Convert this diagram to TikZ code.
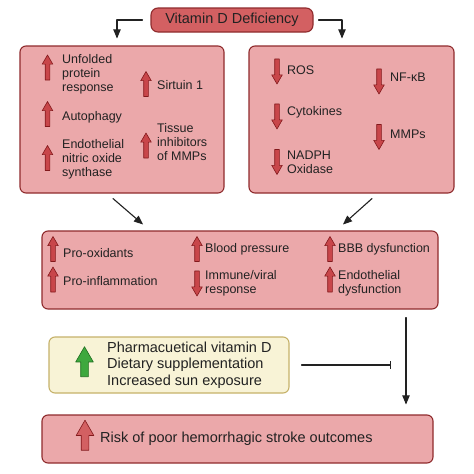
\documentclass[tikz,border=0pt]{standalone}
\usepackage{fontspec}
\setmainfont{Liberation Sans}
\usetikzlibrary{arrows,arrows.meta,shapes.arrows}
\definecolor{boxfill}{HTML}{EBA8AA}
\definecolor{boxline}{HTML}{8F2B2D}
\definecolor{titlefill}{HTML}{D36062}
\definecolor{yelfill}{HTML}{F8F3D6}
\definecolor{yelline}{HTML}{C6B26A}
\definecolor{arrfill}{HTML}{C8464A}
\definecolor{arrline}{HTML}{82191C}
\definecolor{grnfill}{HTML}{3EA83E}
\definecolor{grnline}{HTML}{1F6E1F}
\definecolor{txt}{HTML}{222222}
\begin{document}
\begin{tikzpicture}[line cap=round,line join=round,>=triangle 45,x=1pt,y=-1pt,
  box/.style={draw=boxline,fill=boxfill,rounded corners=6pt,line width=1.1pt,inner sep=0pt},
  uparr/.style={single arrow,draw=arrline,fill=arrfill,line width=0.6pt,minimum height=25pt,
    inner sep=2pt,single arrow head extend=3pt,single arrow tip angle=60,rotate=90},
  dnarr/.style={uparr,rotate=180},
  lbl/.style={anchor=west,inner sep=0pt,align=left,text=txt,font=\fontsize{12.5}{14}\selectfont},
  big/.style={anchor=west,inner sep=0pt,align=left,text=txt,font=\fontsize{14.5}{16.5}\selectfont},
  conn/.style={line width=1.1pt,draw=txt}]
\useasboundingbox (0,0) rectangle (474,474);
\fill[white] (0,0) rectangle (474,474);
% boxes
\node[box,fill=titlefill,rounded corners=7pt,minimum width=162pt,minimum height=24pt,font=\fontsize{14.5}{16}\selectfont,text=txt] (title) at (232,20) {Vitamin D Deficiency};
\node[box,minimum width=204pt,minimum height=147pt] (lbox) at (122,119.5) {};
\node[box,minimum width=205pt,minimum height=147pt] (rbox) at (351.5,119.5) {};
\node[box,minimum width=396pt,minimum height=78pt] (mbox) at (240,270) {};
\node[box,draw=yelline,fill=yelfill,minimum width=240pt,minimum height=56pt] (ybox) at (169,365) {};
\node[box,minimum width=391pt,minimum height=48pt] (bbox) at (237.5,439) {};
% connectors
\draw[conn,->,shorten <=8pt,shorten >=7pt] (title.west) -| ([xshift=-5pt]lbox.north);
\draw[conn,->,shorten <=5pt,shorten >=7pt] (title.east) -| ([xshift=-9.5pt]rbox.north);
\draw[conn,->] ([xshift=-9pt,yshift=-5pt]lbox.south) -- ([xshift=-97pt,yshift=6pt]mbox.north);
\draw[conn,->] ([xshift=20.5pt,yshift=-5pt]rbox.south) -- ([xshift=103pt,yshift=6pt]mbox.north);
\draw[conn,->] ([xshift=166pt,yshift=-8pt]mbox.south) coordinate (vtop) -- ([xshift=168.5pt,yshift=10pt]bbox.north);
\coordinate (vmid) at (vtop |- ybox.east);
\draw[conn,-{Bar[width=8pt]},shorten <=12pt,shorten >=15pt] (ybox.east) -- (vmid);
% left box
\node[uparr] (a1) at (47.5,69.5) {};
\node[lbl] (t1) at (62,74) {Unfolded\\protein\\response};
\node[uparr] (a2) at (47.5,116) {};
\node[lbl] (t2) at (62,117) {Autophagy};
\node[uparr] (a3) at (47.5,160) {};
\node[lbl] (t3) at (62,159) {Endothelial\\nitric oxide\\synthase};
\node[uparr] (a4) at (146,86) {};
\node[lbl] (t4) at (157,85) {Sirtuin 1};
\node[uparr] (a5) at (146,147.5) {};
\node[lbl] (t5) at (157,142) {Tissue\\inhibitors\\of MMPs};
% right box
\node[dnarr] (a6) at (277,69.5) {};
\node[lbl] (t6) at (287,70) {ROS};
\node[dnarr] (a7) at (277,114.5) {};
\node[lbl] (t7) at (287,112) {Cytokines};
\node[dnarr] (a8) at (277,160) {};
\node[lbl] (t8) at (287,162) {NADPH\\Oxidase};
\node[dnarr] (a9) at (379,79.5) {};
\node[lbl] (t9) at (390,77) {NF-κB};
\node[dnarr] (a10) at (379,135) {};
\node[lbl] (t10) at (390,134) {MMPs};
% middle box
\node[uparr] (a11) at (53,251) {};
\node[lbl] (t11) at (63,253) {Pro-oxidants};
\node[uparr] (a12) at (53,281.5) {};
\node[lbl] (t12) at (63,281) {Pro-inflammation};
\node[uparr] (a13) at (197,251) {};
\node[lbl] (t13) at (205,249) {Blood pressure};
\node[dnarr] (a14) at (197,281.5) {};
\node[lbl] (t14) at (205,283.5) {Immune/viral\\response};
\node[uparr] (a15) at (330,251) {};
\node[lbl] (t15) at (338,249) {BBB dysfunction};
\node[uparr] (a16) at (330,281.5) {};
\node[lbl] (t16) at (338,283.5) {Endothelial\\dysfunction};
% yellow box
\node[uparr,draw=grnline,fill=grnfill,minimum height=30pt,inner sep=3.5pt,single arrow head extend=5pt] (a17) at (84.5,365) {};
\node[big] (t17) at (107,365) {Pharmacuetical vitamin D\\Dietary supplementation\\Increased sun exposure};
% bottom box
\node[uparr,fill=titlefill,minimum height=30pt,inner sep=3.5pt,single arrow head extend=5pt] (a18) at (85,438.5) {};
\node[big] (t18) at (100,439) {Risk of poor hemorrhagic stroke outcomes};
\end{tikzpicture}
\end{document}
